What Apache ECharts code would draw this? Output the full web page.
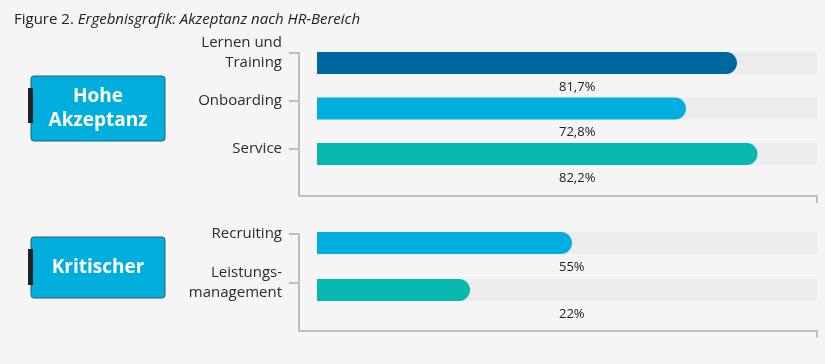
<!DOCTYPE html>
<html><head><meta charset="utf-8">
<script src="https://cdn.jsdelivr.net/npm/echarts@6/dist/echarts.min.js"></script>
<style>html,body{margin:0;padding:0;background:#f5f5f5}#c{width:825px;height:364px}</style>
</head><body><div id="c"></div>
<script>
// ---- data ----
const topCategories = ['Lernen und\nTraining', 'Onboarding', 'Service'];
const topValues = [84, 73.8, 88.1];            // bar lengths as drawn
const topLabels = ['81,7%', '72,8%', '82,2%'];  // printed value labels
const topColors = ['#00669f', '#00afdf', '#06b8b0'];

const botCategories = ['Recruiting', 'Leistungs-\nmanagement'];
const botValues = [51, 30.6];
const botLabels = ['55%', '22%'];
const botColors = ['#00afdf', '#06b8b0'];

const groupNames = ['Hohe\nAkzeptanz', 'Kritischer'];
const xMax = 100;

const FONT = '"Open Sans", "Noto Sans", sans-serif';
const axisGray = '#bdbdbd';

const chart = echarts.init(document.getElementById('c'));

function axisPair(idx, cats, axisTop, axisH, barTop, barH) {
  return {
    grids: [
      {left: 299, right: 8, top: axisTop, height: axisH},
      {left: 299, right: 8, top: barTop, height: barH}
    ],
    xAxes: [
      {type: 'value', gridIndex: idx*2, min: -3.6, max: xMax,
       axisLine: {show: true, onZero: false, lineStyle: {color: axisGray, width: 2}},
       axisTick: {show: true, customValues: [xMax], length: 7, lineStyle: {color: axisGray, width: 2}},
       axisLabel: {show: false}, splitLine: {show: false}},
      {type: 'value', gridIndex: idx*2+1, min: -3.6, max: xMax, show: false, splitLine: {show: false}}
    ],
    yAxes: [
      {type: 'category', gridIndex: idx*2, data: cats.concat(['']), inverse: true, boundaryGap: false,
       axisLine: {show: true, onZero: false, lineStyle: {color: axisGray, width: 2}},
       axisTick: {show: true, length: 10, lineStyle: {color: axisGray, width: 2},
                  interval: function(i){ return i < cats.length; }},
       axisLabel: {margin: 17, color: '#2b2b2b', fontSize: 15, lineHeight: 20, fontFamily: FONT}},
      {type: 'category', gridIndex: idx*2+1, data: cats, inverse: true, boundaryGap: true, show: false}
    ]
  };
}

const A = axisPair(0, topCategories, 53, 143, 40.25, 136.5);
const B = axisPair(1, botCategories, 234, 96.5, 219.5, 94);

function bgSeries(ax, cats, labels) {
  return {
    type: 'bar', xAxisIndex: ax, yAxisIndex: ax, barWidth: 22, barGap: '-100%', silent: true,
    data: cats.map(() => xMax),
    itemStyle: {color: '#ececec'},
    label: {show: true, position: [242, 35], align: 'left', verticalAlign: 'middle',
            formatter: p => labels[p.dataIndex], color: '#222', fontSize: 13, fontFamily: FONT},
    z: 1
  };
}
function fgSeries(ax, vals, colors) {
  return {
    type: 'bar', xAxisIndex: ax, yAxisIndex: ax, barWidth: 22, barGap: '-100%', silent: true,
    data: vals.map((v, i) => ({value: v, itemStyle: {color: colors[i]}})),
    itemStyle: {borderRadius: [0, 11, 11, 0]},
    z: 2
  };
}

function box(y, h, accY, accH, text) {
  return [
    {type: 'rect', shape: {x: 31, y: y, width: 134, height: h, r: 3},
     style: {fill: '#00aede', stroke: '#2a5f73', lineWidth: 1}, z: 10},
    {type: 'rect', shape: {x: 28, y: accY, width: 5, height: accH},
     style: {fill: '#232323'}, z: 11},
    {type: 'text', x: 98, y: y + h/2,
     style: {text: text, fill: '#ffffff', font: 'bold 19px ' + FONT, align: 'center',
             verticalAlign: 'middle', lineHeight: 24}, z: 12}
  ];
}

chart.setOption({
  backgroundColor: '#f5f5f5',
  animation: false,
  title: {
    left: 9, top: 7,
    text: '{a|Figure 2. }{b|Ergebnisgrafik: Akzeptanz nach HR-Bereich}',
    textStyle: {fontWeight: 'normal', rich: {
      a: {fontSize: 15, color: '#222', fontWeight: 'normal', fontFamily: FONT},
      b: {fontSize: 15, color: '#222', fontWeight: 'normal', fontStyle: 'italic', fontFamily: FONT}
    }}
  },
  grid: A.grids.concat(B.grids),
  xAxis: A.xAxes.concat(B.xAxes),
  yAxis: A.yAxes.concat(B.yAxes),
  series: [
    bgSeries(1, topCategories, topLabels),
    fgSeries(1, topValues, topColors),
    bgSeries(3, botCategories, botLabels),
    fgSeries(3, botValues, botColors)
  ],
  graphic: box(76, 65, 88, 35, groupNames[0]).concat(box(237, 61, 249, 36, groupNames[1]))
});
</script></body></html>
